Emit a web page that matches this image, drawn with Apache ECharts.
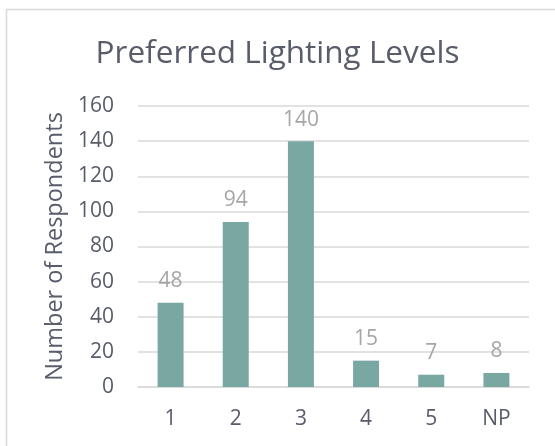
<!DOCTYPE html>
<html>
<head>
<meta charset="utf-8">
<script src="https://cdn.jsdelivr.net/npm/echarts@6/dist/echarts.min.js"></script>
<style>
  html, body { margin: 0; padding: 0; background: #fff; }
  #chart { width: 555px; height: 446px; }
</style>
</head>
<body>
<div id="chart"></div>
<script>
// Preferred lighting level survey results
const categories = ['1', '2', '3', '4', '5', 'NP'];
const respondents = [48, 94, 140, 15, 7, 8];
const yTicks = { min: 0, max: 160, interval: 20 };

const FONT = '"Open Sans", "Noto Sans", sans-serif';
const TEXT = '#585c6b';
const chart = echarts.init(document.getElementById('chart'), null, { renderer: 'canvas' });

chart.setOption({
  backgroundColor: '#ffffff',
  animation: false,
  graphic: [{
    type: 'rect',
    left: 4, top: 7,
    shape: { width: 600, height: 500 },
    style: { fill: 'none', stroke: '#d9d9d9', lineWidth: 1.5 },
    silent: true
  }],
  title: {
    text: 'Preferred Lighting Levels',
    left: 'center',
    top: 33,
    textStyle: { fontFamily: FONT, fontSize: 31.5, fontWeight: 'normal', color: TEXT }
  },
  grid: { left: 138, right: 26, top: 106, bottom: 59, containLabel: false },
  xAxis: {
    type: 'category',
    data: categories,
    axisLine: { show: true, lineStyle: { color: '#d9d9d9', width: 1.5 } },
    axisTick: { show: false },
    axisLabel: { fontFamily: FONT, fontSize: 21, color: TEXT, margin: 22 }
  },
  yAxis: {
    type: 'value',
    min: yTicks.min, max: yTicks.max, interval: yTicks.interval,
    name: 'Number of Respondents',
    nameLocation: 'middle',
    nameGap: 70,
    nameTextStyle: { fontFamily: FONT, fontSize: 23.5, color: TEXT },
    axisLine: { show: false },
    axisTick: { show: false },
    splitLine: { lineStyle: { color: '#d9d9d9', width: 1.5 } },
    axisLabel: { fontFamily: FONT, fontSize: 21, color: TEXT, margin: 24 }
  },
  series: [{
    type: 'bar',
    data: respondents,
    barWidth: 26,
    itemStyle: { color: '#79a8a2' },
    label: {
      show: true,
      position: 'top',
      distance: 11,
      fontFamily: FONT,
      fontSize: 21,
      color: '#a6a6a6'
    }
  }]
});
</script>
</body>
</html>
